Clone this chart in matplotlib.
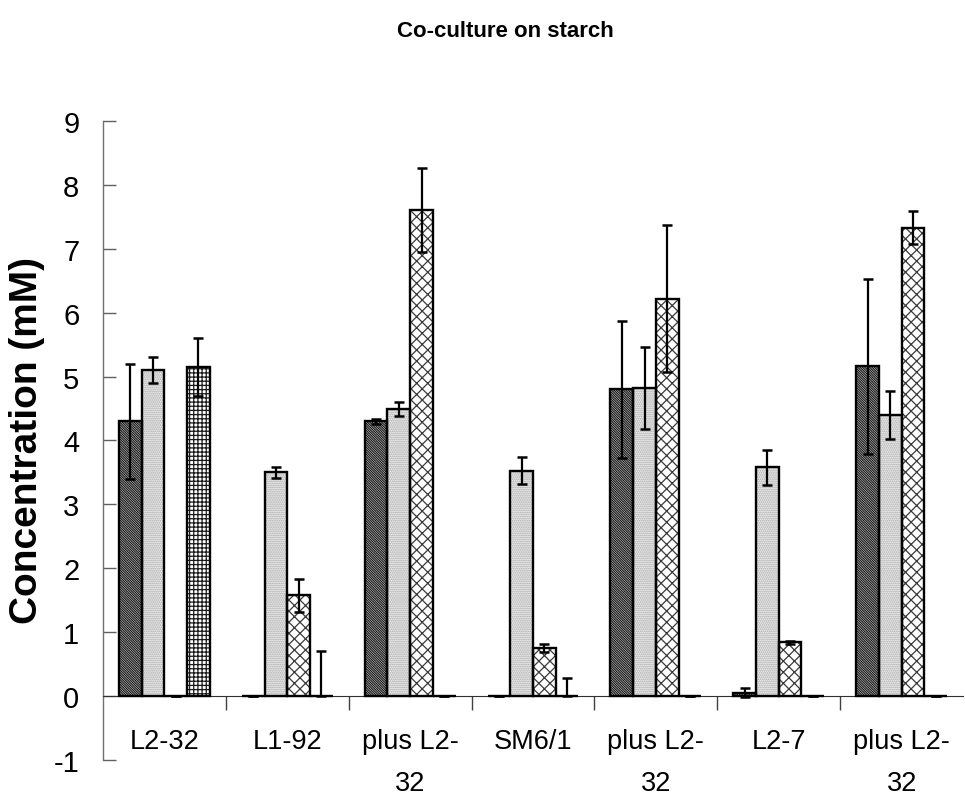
"""Co-culture on starch: grouped bar chart with error bars."""

import matplotlib

matplotlib.use("Agg")
import matplotlib.pyplot as plt
import numpy as np

GROUPS = ["L2-32", "L1-92", "plus L2-\n32", "SM6/1", "plus L2-\n32", "L2-7", "plus L2-\n32"]

series_a = [4.30, 0.00, 4.30, 0.00, 4.80, 0.05, 5.16]
series_b = [5.10, 3.50, 4.50, 3.53, 4.82, 3.58, 4.40]
series_c = [0.00, 1.58, 7.61, 0.75, 6.22, 0.84, 7.33]
series_d = [5.15, 0.00, 0.00, 0.00, 0.00, 0.00, 0.00]

err_a = [0.90, 0.00, 0.04, 0.00, 1.07, 0.07, 1.37]
err_b = [0.20, 0.09, 0.11, 0.21, 0.64, 0.27, 0.37]
err_c = [0.00, 0.26, 0.66, 0.06, 1.15, 0.02, 0.26]
err_d_low = [0.45, 0.00, 0.00, 0.00, 0.00, 0.00, 0.00]
err_d_high = [0.45, 0.71, 0.00, 0.28, 0.00, 0.00, 0.00]

YTICKS = list(range(-1, 10))

FONT = ["Liberation Sans", "DejaVu Sans"]

plt.rcParams["hatch.linewidth"] = 0.9

fig = plt.figure(figsize=(9.65, 8.12), dpi=100)
ax = fig.add_axes([0.1067, 0.0628, 0.8913, 0.787])

x = np.arange(len(GROUPS))
width = 0.185
offsets = [-1.5 * width, -0.5 * width, 0.5 * width, 1.5 * width]

styles = [
    dict(fill="white", hatch="\\" * 14, hcolor="#1a1a1a"),
    dict(fill="#f4f4f4", hatch="." * 8, hcolor="#a0a0a0"),
    dict(fill="white", hatch="xxx", hcolor="#3a3a3a"),
    dict(fill="white", hatch="++++", hcolor="#1a1a1a"),
]
values = [series_a, series_b, series_c, series_d]
errors = [
    err_a,
    err_b,
    err_c,
    [err_d_low, err_d_high],
]

for vals, errs, off, st in zip(values, errors, offsets, styles):
    pos = x + off
    # hatch layer, then a clean black outline on top
    ax.bar(pos, vals, width, color=st["fill"], edgecolor=st["hcolor"],
           hatch=st["hatch"], linewidth=0, zorder=2)
    ax.bar(pos, vals, width, fill=False, edgecolor="black", linewidth=1.7, zorder=3)
    ax.errorbar(pos, vals, yerr=errs, fmt="none", ecolor="black",
                elinewidth=1.6, capsize=3.4, capthick=1.8, zorder=4)

# spine position first: moving it resets the tick objects
for side in ("top", "right"):
    ax.spines[side].set_visible(False)
ax.spines["bottom"].set_position(("data", 0))
ax.spines["bottom"].set_color("#303030")
ax.spines["left"].set_color("#707070")
ax.spines["left"].set_linewidth(1)

ax.set_xlim(-0.5, len(GROUPS) - 0.5)
ax.set_ylim(-1, 9)
ax.set_yticks(YTICKS)
ax.set_yticklabels([str(t) for t in YTICKS])
ax.tick_params(axis="y", direction="in", length=9, width=1, color="#606060", pad=17)

ax.set_xticks(x)
ax.set_xticklabels(GROUPS)
ax.set_xticks(x[:-1] + 0.5, minor=True)
ax.tick_params(axis="x", which="major", length=0, pad=23)
ax.tick_params(axis="x", which="minor", direction="out", length=10, width=1, color="#404040")

for lab in ax.get_yticklabels():
    lab.set_family(FONT)
    lab.set_fontsize(21)
for lab in ax.get_xticklabels():
    lab.set_family(FONT)
    lab.set_fontsize(19.5)
    lab.set_linespacing(1.8)

fig.text(0.028, 0.458, "Concentration (mM)", rotation=90, ha="center", va="center",
         family=FONT, fontsize=28, fontweight="bold")
fig.text(0.524, 0.961, "Co-culture on starch", ha="center", va="center",
         family=FONT, fontsize=16, fontweight="bold")

fig.savefig("out.png", dpi=100)
